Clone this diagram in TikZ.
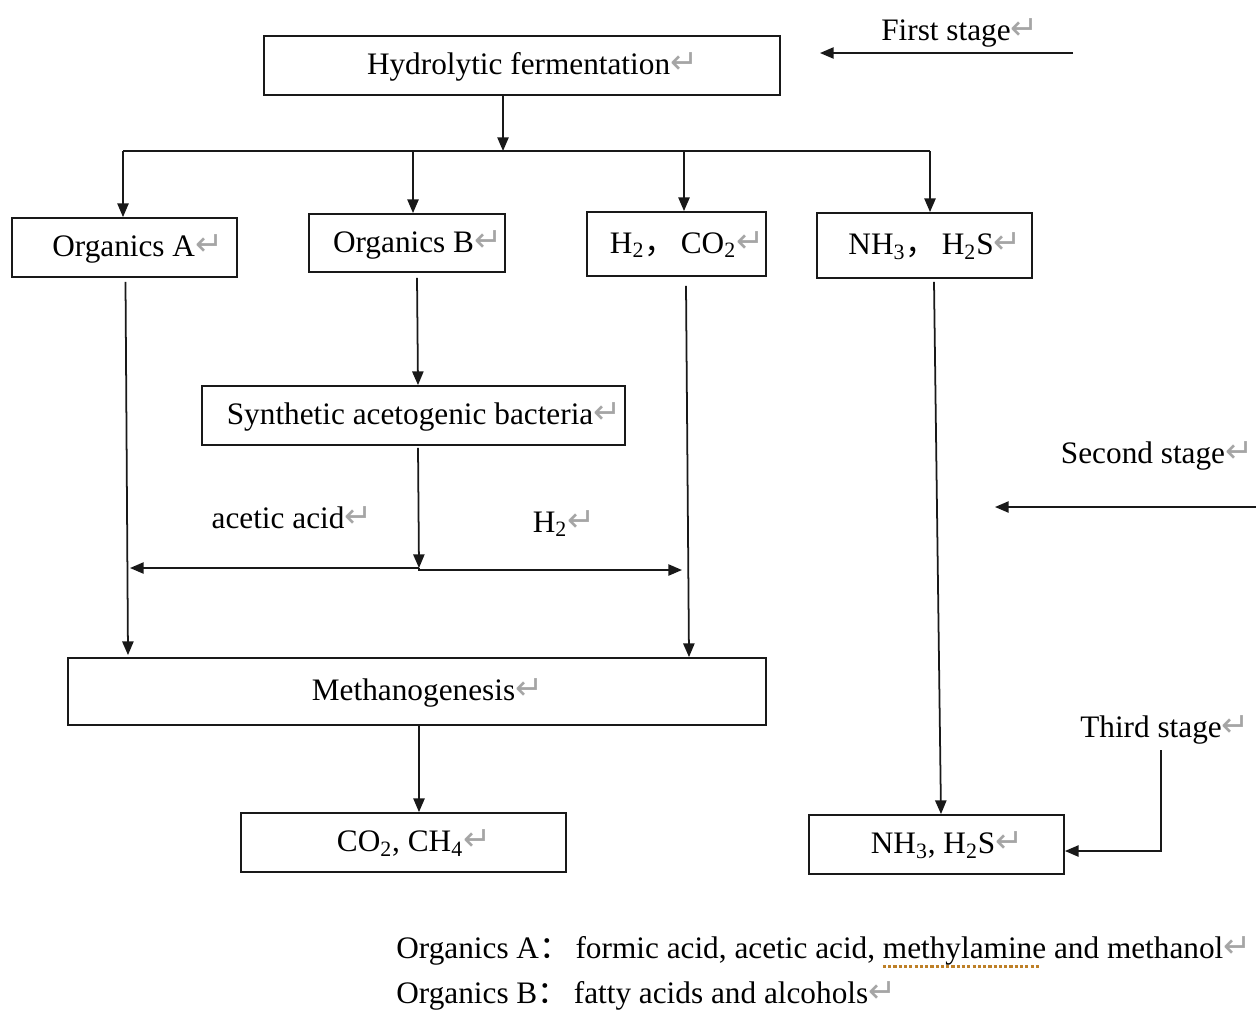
\documentclass[tikz,border=0pt]{standalone}
\usepackage{fontspec}
\setmainfont{Liberation Serif}
\newfontfamily\symfont{DejaVu Sans}
\newfontfamily\cjk{Noto Sans CJK SC}
\usetikzlibrary{arrows.meta,calc}
\definecolor{rgray}{RGB}{165,165,165}
\definecolor{spellc}{RGB}{190,128,40}
\definecolor{linec}{RGB}{25,25,25}
\newcommand\rmk{{\symfont\fontsize{19}{19}\selectfont\color{rgray}\raisebox{0.5pt}{↵}}}
\newcommand\pad{\hspace*{12pt}}
\newlength\spw
\newcommand\spellmark[1]{\settowidth\spw{#1}\rlap{\raisebox{-5.5pt}[0pt][0pt]{\color{spellc}\hbox to \spw{\leaders\hbox{\rule{1.8pt}{1.4pt}\hskip1.2pt}\hfill}}}#1}
\tikzset{
  boxnode/.style={draw=linec, line width=1.05pt, inner sep=0pt, text height=13pt, text depth=2.5pt, font=\fontsize{17.8}{21}\selectfont},
  lbl/.style={inner sep=0pt, text height=13pt, text depth=2.5pt, font=\fontsize{17.8}{21}\selectfont},
  arr/.style={draw=linec, line width=1pt, -{Triangle[length=7.8pt,width=6.4pt]}},
  ln/.style={draw=linec, line width=1pt},
}
\begin{document}
\begin{tikzpicture}[x=0.02cm, y=-0.02cm]
\useasboundingbox (0,0) rectangle (1256,1009);
% boxes
\node[boxnode, minimum width=10.32cm, minimum height=1.18cm] (hyd) at (522,65.5) {\pad Hydrolytic fermentation\rmk};
\node[boxnode, minimum width=4.5cm, minimum height=1.18cm] (orgA) at (124.5,247.5) {\hspace*{15pt}Organics A\rmk};
\node[boxnode, minimum width=3.92cm, minimum height=1.16cm] (orgB) at (407,243) {\hspace*{12pt}Organics B\rmk};
\node[boxnode, minimum width=3.58cm, minimum height=1.28cm] (hco) at (676.5,244) {\pad H\textsubscript{2}{\cjk ，}\,CO\textsubscript{2}\rmk};
\node[boxnode, minimum width=4.3cm, minimum height=1.3cm] (nh) at (924.5,245.5) {\pad NH\textsubscript{3}{\cjk ，}\,H\textsubscript{2}S\rmk};
\node[boxnode, minimum width=8.46cm, minimum height=1.18cm] (syn) at (413.5,415.5) {\pad Synthetic acetogenic bacteria\rmk};
\node[boxnode, minimum width=13.96cm, minimum height=1.34cm] (meth) at (417,691.5) {\pad Methanogenesis\rmk};
\node[boxnode, minimum width=6.5cm, minimum height=1.18cm] (cch) at (403.5,842.5) {\pad CO\textsubscript{2}, CH\textsubscript{4}\rmk};
\node[boxnode, minimum width=5.1cm, minimum height=1.18cm] (nhb) at (936.5,844.5) {\pad NH\textsubscript{3}, H\textsubscript{2}S\rmk};
% labels
\node[lbl] (s1) at (960,31) {First stage\rmk};
\node[lbl] (s2) at (1157,454) {Second stage\rmk};
\node[lbl] (s3) at (1165,728) {Third stage\rmk};
\node[lbl] (aa) at (292,519) {acetic acid\rmk};
\node[lbl] (hh) at (564,523) {H\textsubscript{2}\rmk};
\node[lbl, anchor=base west] (noteA) at (396,958) {Organics A{\cjk ：}\,formic acid, acetic acid, \spellmark{methylamine} and methanol\rmk};
\node[lbl, anchor=base west] (noteB) at (396,1003) {Organics B{\cjk ：}\,fatty acids and alcohols\rmk};
% coordinates
\coordinate (sp) at (503,151);
\coordinate (bl) at (123,151);
\coordinate (bB) at (413,151);
\coordinate (bH) at (684,151);
\coordinate (br) at (930,151);
\coordinate (j) at (419,568);
\coordinate (jl) at (130,568);
\coordinate (jr) at (682,570);
\coordinate (f1) at (1073,53);
\coordinate (f2) at (820,53);
\coordinate (g1) at (1256,507);
\coordinate (g2) at (995,507);
\coordinate (t1) at (1161,750);
\coordinate (t2) at (1161,851);
% connectors
\draw[arr] (sp |- hyd.south) -- (sp);
\draw[ln] (bl) -- (br);
\draw[arr] (bl) -- (bl |- orgA.north);
\draw[arr] (bB) -- (bB |- orgB.north);
\draw[arr] (bH) -- (bH |- hco.north);
\draw[arr] (br) -- (br |- nh.north);
\draw[arr] ($(orgA.south)+(1,4)$) -- ($(meth.north)+(-289,-2)$);
\draw[arr] ($(orgB.south)+(10,5)$) -- ($(syn.north)+(4.5,0)$);
\draw[arr] ($(syn.south)+(4.5,2)$) -- (j);
\draw[arr] (j) -- (jl);
\draw[arr] (j) -- (j |- jr) -- (jr);
\draw[arr] ($(hco.south)+(9.5,9)$) -- ($(meth.north)+(272,0)$);
\draw[arr] ($(nh.south)+(9.5,3)$) -- ($(nhb.north)+(4.5,0)$);
\draw[arr] ($(meth.south)+(2,0)$) -- ($(cch.north)+(15.5,0)$);
\draw[arr] (t1) -- (t2) -- (t2 -| nhb.east);
\draw[arr] (f1) -- (f2);
\draw[arr] (g1) -- (g2);
\end{tikzpicture}
\end{document}
